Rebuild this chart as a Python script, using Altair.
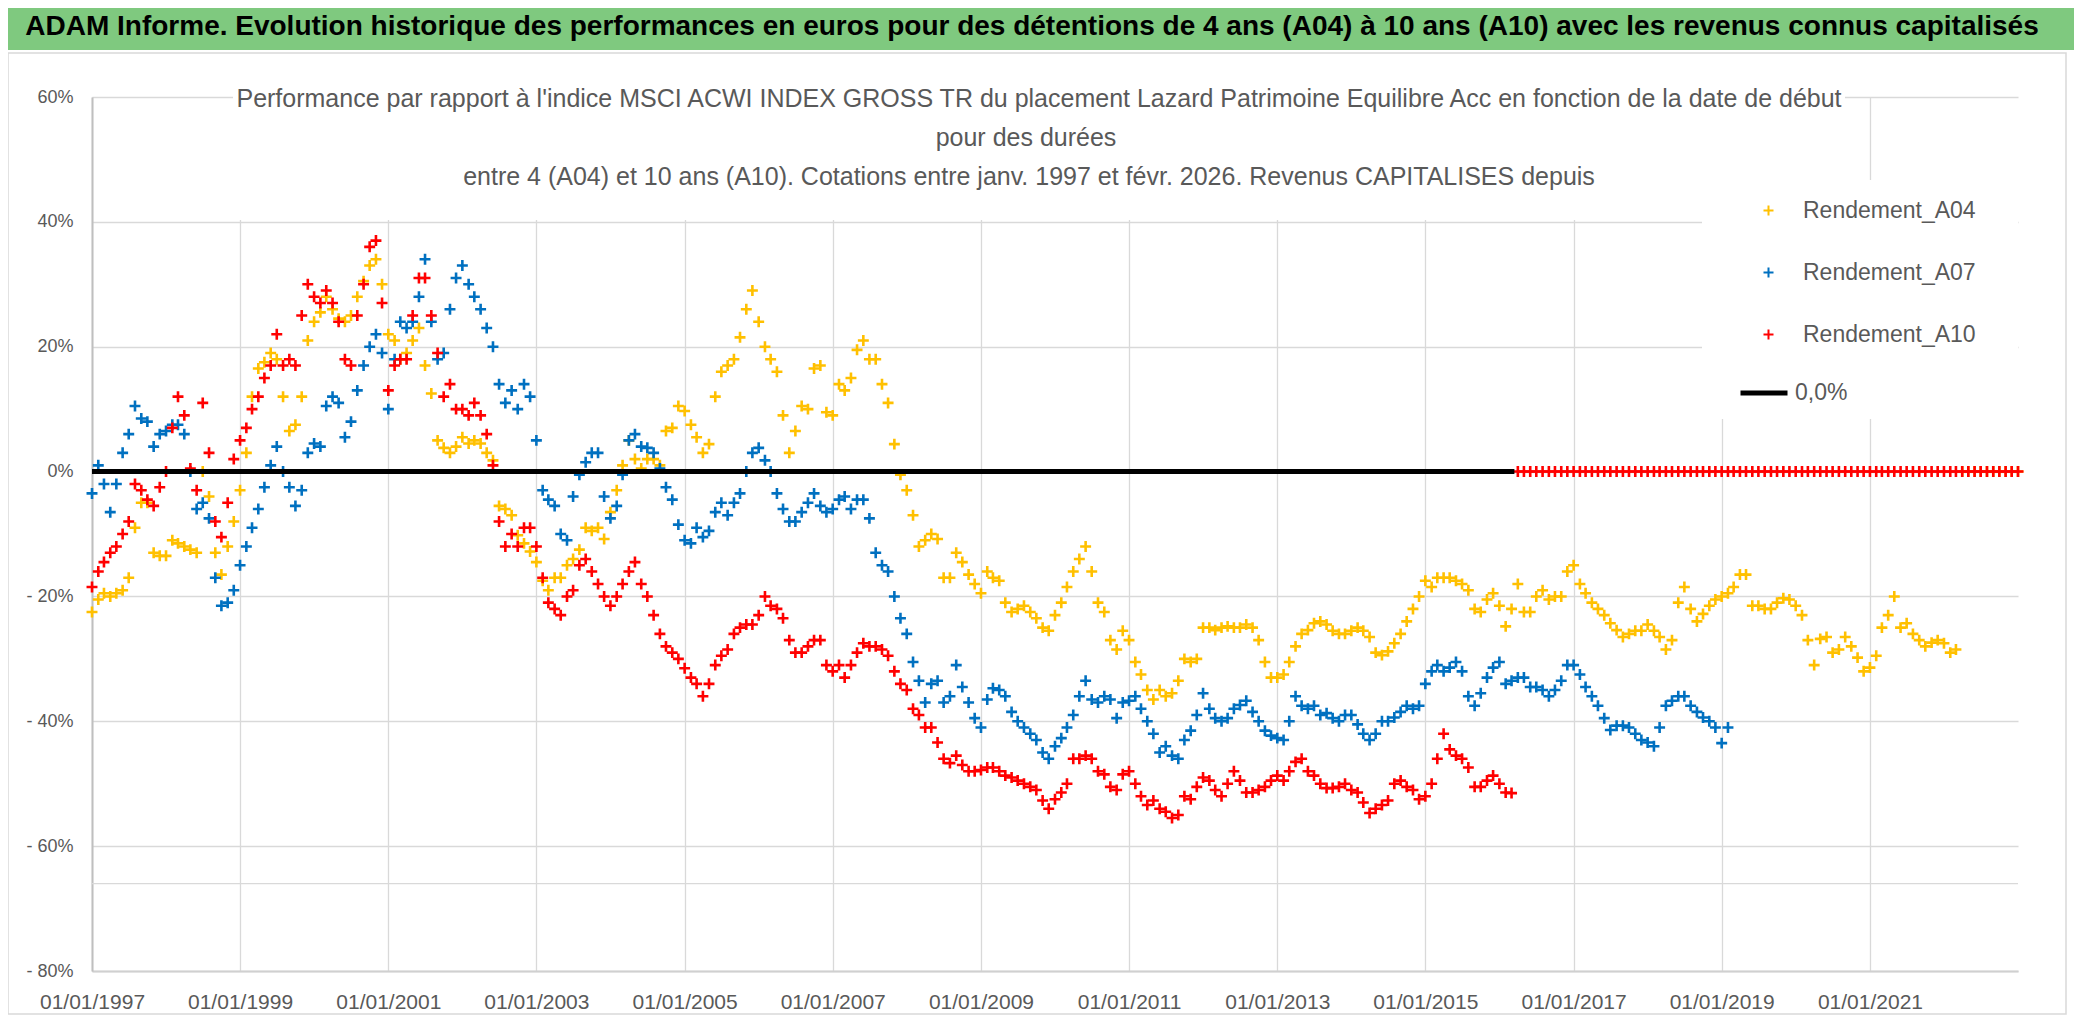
import altair as alt
import pandas as pd

FONT = "Liberation Sans"
GRAY_TXT = "#595959"

series_names = ["Rendement_A04", "Rendement_A07", "Rendement_A10"]
series_colors = ["#FFC000", "#0070C0", "#FF0000"]
start_date = "1997-01-01"

# monthly values (%), one row per year starting Jan 1997
a04 = [
    -22.5, -20.5, -19.5, -20, -19.5, -19, -17, -9, -5, -5, -13, -13.5,
    -13.5, -11, -11.5, -12, -12.5, -13, 0, -4, -13, -16.5, -12, -8,
    -3, 3, 12, 16.5, 17.5, 19, 18, 12, 6.5, 7.5, 12, 21,
    24, 25.5, 28, 26, 24.5, 24, 25, 28, 30.5, 33, 34, 30,
    22, 21, 18, 19, 21, 23, 17, 12.5, 5, 3.8, 3, 4,
    5.5, 4.5, 5, 4.5, 3, 1.8, -5.5, -6, -7, -10.2, -11.5, -12.8,
    -14.5, -17.5, -19, -17, -17, -15, -14, -12.5, -9, -9.5, -9, -10.8,
    -6.5, -3, 1, 5, 2, 0.5, 2, 2, 1, 6.5, 7, 10.5,
    9.7, 7.5, 5.5, 3, 4.4, 12, 16, 17, 18, 21.5, 26, 29,
    24, 20, 18, 16, 9, 3, 6.5, 10.5, 10, 16.5, 17, 9.5,
    9, 14, 13, 15, 19.5, 21, 18, 18, 14, 11, 4.4, -0.5,
    -3, -7, -12, -11, -10, -10.8, -17, -17, -13, -14.5, -16.5, -18,
    -19.5, -16, -17, -17.5, -21, -22.5, -22, -21.5, -22.5, -23.5, -25, -25.5,
    -23, -21, -18.5, -16, -14, -12, -16, -21, -22.5, -27, -28.5, -25.5,
    -27, -30.5, -32.5, -35, -36.5, -35, -36, -35.5, -33.5, -30, -30.5, -30,
    -25, -25, -25.4, -25, -24.8, -25, -25, -24.5, -25, -27, -30.5, -33,
    -33, -32.5, -30.5, -28, -26, -25.4, -24.3, -24, -24.5, -25.5, -26, -26,
    -25.5, -25, -25.5, -26.5, -29, -29.4, -28.8, -27.5, -26, -24, -22, -20,
    -17.5, -18.5, -17, -17, -17, -17.5, -18, -19, -22, -22.5, -20.5, -19.5,
    -21.5, -24.8, -22, -18, -22.5, -22.5, -20, -19, -20.5, -20, -20, -16,
    -15, -18, -19.5, -21, -22, -23, -24.3, -25.4, -26.5, -26, -25.5, -25.5,
    -24.5, -25.5, -26.5, -28.5, -27, -21, -18.5, -22, -24, -22.8, -21.5, -20.5,
    -20, -19.5, -18.5, -16.5, -16.5, -21.5, -21.5, -22, -22, -21, -20.3, -20.5,
    -21.5, -23, -27, -31, -26.8, -26.5, -29, -28.5, -26.5, -28, -29.8, -32,
    -31.4, -29.5, -25, -23, -20, -25, -24.3, -26, -27, -28, -27.4, -27,
    -27.5, -29, -28.5, 0, 0, 0, 0, 0, 0, 0, 0, 0,
    0,
]

a07 = [
    -3.5, 1, -2, -6.5, -2, 3, 6, 10.5, 8.5, 8, 4, 6,
    6.5, 7.5, 7.5, 6, 0, -6, -5, -7.5, -17, -21.5, -21, -19,
    -15, -12, -9, -6, -2.5, 1, 4, 0, -2.5, -5.5, -3, 3,
    4.5, 4, 10.5, 12, 11, 5.5, 8, 13, 17, 20, 22, 19,
    10, 18, 24, 23, 24, 28, 34, 24, 18, 19, 26, 31,
    33, 30, 28, 26, 23, 20, 14, 11, 13, 10, 14, 12,
    5, -3, -4.5, -5.5, -10, -11, -4, -0.5, 1.5, 3, 3, -4,
    -7.5, -5.5, -0.5, 5, 6, 4, 3.8, 3, 0.5, -2.5, -4.5, -8.5,
    -11, -11.5, -9, -10.5, -9.5, -6.5, -5, -7, -5, -3.5, 0, 3,
    3.8, 1.8, 0, -3.5, -6, -8, -8, -6.5, -5, -3.5, -5.5, -6.5,
    -6, -4.5, -4, -6, -4.5, -4.5, -7.5, -13, -15, -16, -20, -23.5,
    -26, -30.5, -33.5, -37, -34, -33.5, -37, -36, -31, -34.5, -37, -39.5,
    -41, -36.5, -34.7, -35, -36, -38.5, -40, -41, -42, -43, -45, -46,
    -44, -42.7, -41, -39, -36, -33.5, -36.5, -37, -36, -36.5, -39.5, -37,
    -36.7, -36, -38, -40, -42, -45, -44, -45.5, -46, -43, -41.5, -39,
    -35.5, -38, -39.5, -40, -39.5, -38, -37.4, -36.7, -38.5, -40, -41.5, -42.3,
    -42.7, -43, -40, -36, -37.5, -38, -37.5, -39, -38.7, -39.5, -40, -39,
    -39, -40.5, -42, -43, -42, -40, -40, -39.4, -38.5, -37.5, -38, -37.5,
    -34, -32, -31, -32, -31.4, -30.5, -32, -36, -37.5, -35.5, -33, -31.4,
    -30.5, -34, -33.5, -33, -33, -34.5, -34.5, -35, -36, -35, -33.5, -31,
    -31, -32.5, -34.5, -36, -37.5, -39.5, -41.4, -40.7, -40.7, -41, -42, -43,
    -43.4, -44, -41, -37.5, -36.7, -36, -36, -37.5, -38.5, -39.4, -40, -41,
    -43.5, -41,
]

a10 = [
    -18.5, -16, -14.5, -13, -12, -10, -8, -2, -3, -4.5, -5.5, -2.5,
    0, 7, 12, 9, 0.5, -3, 11, 3, -8, -10.5, -5, 2,
    5, 7, 10, 12, 15, 17, 22, 17, 18, 17, 25, 30,
    28, 27, 29, 27, 24, 18, 17, 25, 30, 36, 37, 27,
    13, 17, 18, 18, 25, 31, 31, 25, 19, 12, 14, 10,
    10, 9, 11, 9, 6, 1, -8, -12, -10, -12, -9, -9,
    -12, -17, -21, -22, -23, -20, -19, -15, -14, -16, -18, -20,
    -21.5, -20, -18, -16, -14.5, -18, -20, -23, -26, -28, -29, -30,
    -31.5, -33, -34, -36, -34, -31, -29.5, -28.5, -26, -25, -24.5, -24.5,
    -23, -20, -21.5, -22, -23.5, -27, -29, -29, -28, -27, -27, -31,
    -32, -31, -33, -31, -29, -27.5, -28, -28, -28.5, -29.5, -32, -34,
    -35, -38, -39, -41, -41, -43.4, -46, -46.7, -45.5, -47, -48, -48,
    -47.8, -47.4, -47.4, -48, -48.7, -49, -49.5, -50, -50.5, -51, -52.7, -54,
    -52.5, -51.4, -50, -46, -46, -45.5, -46, -48, -48.5, -50.5, -51, -48.5,
    -48, -50, -52, -53.4, -52.7, -54, -54.5, -55.5, -55, -52, -52.5, -50.5,
    -49, -49.5, -51, -52, -50, -48, -49.5, -51.4, -51.4, -51, -50.5, -49.5,
    -48.7, -49.5, -48, -46.5, -46, -48, -48.7, -50, -50.7, -50.7, -50.5, -50,
    -51, -51.4, -53, -54.7, -54, -53.4, -52.7, -50, -49.5, -50.5, -51, -52.5,
    -52, -50, -46, -42, -44.5, -45.5, -46, -47.4, -50.5, -50.5, -49.5, -48.7,
    -50, -51.4, -51.5, 0, 0, 0, 0, 0, 0, 0, 0, 0,
    0, 0, 0, 0, 0, 0, 0, 0, 0, 0, 0, 0,
    0, 0, 0, 0, 0, 0, 0, 0, 0, 0, 0, 0,
    0, 0, 0, 0, 0, 0, 0, 0, 0, 0, 0, 0,
    0, 0, 0, 0, 0, 0, 0, 0, 0, 0, 0, 0,
    0, 0, 0, 0, 0, 0, 0, 0, 0, 0, 0, 0,
    0, 0, 0, 0, 0, 0, 0, 0, 0, 0, 0, 0,
    0,
]

zero_dates = ["1997-01-01", "2016-03-15"]
zero_values = [0, 0]
zero_label = "0,0%"
extra_hlines = [-66]

x_tick_years = [1997, 1999, 2001, 2003, 2005, 2007, 2009, 2011, 2013, 2015, 2017, 2019, 2021]
y_ticks = [-80, -60, -40, -20, 0, 20, 40, 60]

title_text = ("ADAM Informe. Evolution historique des performances en euros pour des détentions "
              "de 4 ans (A04) à 10 ans (A10) avec les revenus connus capitalisés")
sub1 = ("Performance par rapport à l'indice MSCI ACWI INDEX GROSS TR  du placement Lazard "
        "Patrimoine Equilibre Acc en fonction de la date de début")
sub2 = "pour des durées"
sub3 = ("entre 4 (A04) et 10 ans (A10). Cotations entre janv. 1997 et févr. 2026. "
        "Revenus CAPITALISES depuis")

frames = []
for name, vals in zip(series_names, [a04, a07, a10]):
    dates = pd.date_range(start_date, periods=len(vals), freq="MS")
    frames.append(pd.DataFrame({"date": dates, "value": vals, "series": name}))
df = pd.concat(frames, ignore_index=True)

zdf = pd.DataFrame({"date": pd.to_datetime(zero_dates), "value": zero_values, "name": zero_label})
hdf = pd.DataFrame({"v": extra_hlines})
one = pd.DataFrame({"k": [0]})

W, H = 1926, 874
PLUS = "M-1,0L1,0M0,-1L0,1"

x_enc = alt.X(
    "date:T",
    scale=alt.Scale(domain=[alt.DateTime(year=1997, month=1, date=1),
                            alt.DateTime(year=2023, month=1, date=1)]),
    axis=alt.Axis(values=[alt.DateTime(year=y, month=1, date=1) for y in x_tick_years],
                  format="%d/%m/%Y", title=None, grid=True, ticks=False, labelOverlap=False,
                  labelFlush=False, labelBound=False,
                  labelFontSize=21, labelPadding=20, domainColor="#d0d0d0", domainWidth=2),
)
y_enc = alt.Y(
    "value:Q",
    scale=alt.Scale(domain=[-80, 60], nice=False),
    axis=alt.Axis(values=y_ticks, title=None, grid=True, ticks=False,
                  labelExpr="datum.value < 0 ? '- ' + abs(datum.value) + '%' : datum.value + '%'",
                  labelFontSize=18, labelPadding=19, domainColor="#bfbfbf", domainWidth=2),
)

border = alt.Chart(one).mark_rect(fill=None, stroke="#d9d9d9", strokeWidth=1.5).encode(
    x=alt.value(-84), x2=alt.value(1974), y=alt.value(-44), y2=alt.value(917))
band = alt.Chart(one).mark_rect(color="#7fc97f").encode(
    x=alt.value(-84), x2=alt.value(1982), y=alt.value(-89), y2=alt.value(-47))
subbox = alt.Chart(one).mark_rect(color="white").encode(
    x=alt.value(141), x2=alt.value(1753), y=alt.value(-19), y2=alt.value(123))
legbox = alt.Chart(one).mark_rect(color="white").encode(
    x=alt.value(1610), x2=alt.value(1926), y=alt.value(83), y2=alt.value(322))

hline = alt.Chart(hdf).mark_rule(color="#d9d9d9", strokeWidth=1.3).encode(y=alt.Y("v:Q"))

points = alt.Chart(df).mark_point(shape=PLUS, filled=False, strokeWidth=2.6, size=120, opacity=1).encode(
    x=x_enc, y=y_enc,
    color=alt.Color("series:N",
                    scale=alt.Scale(domain=series_names, range=series_colors),
                    legend=alt.Legend(orient="none", legendX=1665, legendY=102, title=None,
                                      symbolType=PLUS, symbolSize=100, symbolStrokeWidth=2,
                                      labelFontSize=23, labelFont=FONT, labelColor=GRAY_TXT,
                                      labelLimit=0, labelOffset=23, rowPadding=38, padding=0)),
)

zline = alt.Chart(zdf).mark_line(strokeWidth=5, strokeCap="butt").encode(
    x="date:T", y="value:Q",
    stroke=alt.Stroke("name:N", scale=alt.Scale(domain=[zero_label], range=["black"]),
                      legend=alt.Legend(orient="none", legendX=1646, legendY=270, title=None,
                                        symbolType="stroke", symbolSize=2209, symbolStrokeWidth=5,
                                        labelFontSize=23, labelFont=FONT, labelColor=GRAY_TXT,
                                        labelLimit=0, labelOffset=5, padding=0)),
)

def txt(text, x, y, size, weight="normal", color=GRAY_TXT):
    return alt.Chart(one).mark_text(text=text, font=FONT, fontSize=size, fontWeight=weight,
                                    color=color, align="center", baseline="middle").encode(
        x=alt.value(x), y=alt.value(y))

title = txt(title_text, 940, -70, 28, "bold", "black")
s1 = txt(sub1, 947, 2, 25)
s2 = txt(sub2, 934, 41, 25)
s3 = txt(sub3, 937, 80, 25)

chart = alt.layer(border, band, subbox, legbox, hline, points, zline, title, s1, s2, s3).resolve_legend(
    color="independent", stroke="independent"
).properties(
    width=W, height=H,
    padding={"left": 84, "top": 89, "right": 56, "bottom": 47},
    autosize=alt.AutoSizeParams(type="none"),
    background="white",
).configure_view(stroke=None).configure_axis(
    labelFont=FONT, labelColor=GRAY_TXT, gridColor="#d9d9d9", gridWidth=1.3,
)

chart.save("out.html", embed_options={"renderer": "svg", "actions": False})
